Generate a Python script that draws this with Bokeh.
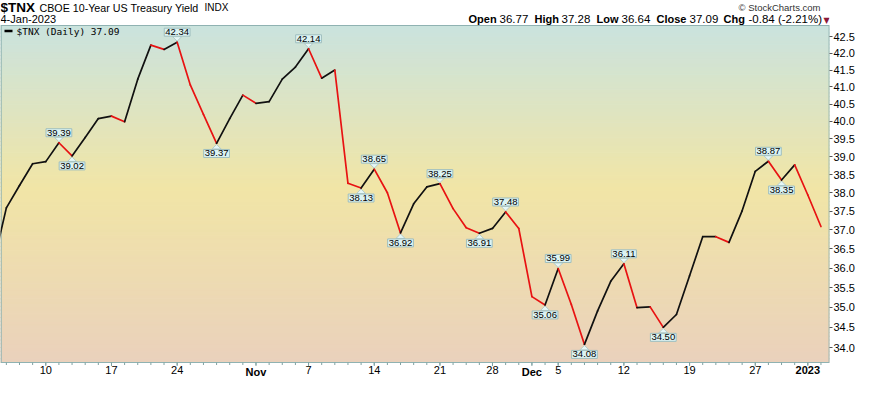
import math
import numpy as np
from bokeh.plotting import figure
from bokeh.models import (Range1d, FixedTicker, PrintfTickFormatter, Label, LabelSet,
                          ColumnDataSource, BoxAnnotation)
from bokeh.core.properties import value
from bokeh.embed import file_html
from bokeh.resources import INLINE

# ---------------- data ----------------
dates = [
    "2022-10-04", "2022-10-05", "2022-10-06", "2022-10-07", "2022-10-10", "2022-10-11",
    "2022-10-12", "2022-10-13", "2022-10-14", "2022-10-17", "2022-10-18", "2022-10-19",
    "2022-10-20", "2022-10-21", "2022-10-24", "2022-10-25", "2022-10-26", "2022-10-27",
    "2022-10-28", "2022-10-31", "2022-11-01", "2022-11-02", "2022-11-03", "2022-11-04",
    "2022-11-07", "2022-11-08", "2022-11-09", "2022-11-10", "2022-11-11", "2022-11-14",
    "2022-11-15", "2022-11-16", "2022-11-17", "2022-11-18", "2022-11-21", "2022-11-22",
    "2022-11-23", "2022-11-25", "2022-11-28", "2022-11-29", "2022-11-30", "2022-12-01",
    "2022-12-02", "2022-12-05", "2022-12-06", "2022-12-07", "2022-12-08", "2022-12-09",
    "2022-12-12", "2022-12-13", "2022-12-14", "2022-12-15", "2022-12-16", "2022-12-19",
    "2022-12-20", "2022-12-21", "2022-12-22", "2022-12-23", "2022-12-27", "2022-12-28",
    "2022-12-29", "2022-12-30", "2023-01-03", "2023-01-04",
]
closes = [
    36.10, 37.59, 38.20, 38.80, 38.86, 39.39,
    39.02, 39.54, 40.08, 40.15, 39.99, 41.23,
    42.25, 42.12, 42.34, 41.06, 40.20, 39.37,
    40.08, 40.76, 40.52, 40.57, 41.23, 41.59,
    42.14, 41.26, 41.50, 38.26, 38.13, 38.65,
    38.00, 36.92, 37.70, 38.16, 38.25, 37.57,
    37.06, 36.91, 37.04, 37.48, 37.04, 35.27,
    35.06, 35.99, 35.07, 34.08, 34.91, 35.66,
    36.11, 34.99, 35.01, 34.50, 34.82, 35.80,
    36.82, 36.82, 36.67, 37.51, 38.59, 38.87,
    38.35, 38.77, 37.94, 37.09,
]
peak_dates = ["2022-10-11", "2022-10-24", "2022-11-07", "2022-11-14", "2022-11-21",
              "2022-11-29", "2022-12-05", "2022-12-12", "2022-12-28"]
trough_dates = ["2022-10-12", "2022-10-27", "2022-11-11", "2022-11-16", "2022-11-25",
                "2022-12-02", "2022-12-07", "2022-12-15", "2022-12-29"]

tick_dates = ["2022-10-10", "2022-10-17", "2022-10-24", "2022-11-01", "2022-11-07",
              "2022-11-14", "2022-11-21", "2022-11-28", "2022-12-01", "2022-12-05",
              "2022-12-12", "2022-12-19", "2022-12-27", "2023-01-03"]
tick_labels = ["10", "17", "24", "Nov", "7", "14", "21", "28", "Dec", "5", "12", "19", "27", "2023"]
tick_bold = [False, False, False, True, False, False, False, False, True, False, False, False, False, True]
y_ticks = [34.0, 34.5, 35.0, 35.5, 36.0, 36.5, 37.0, 37.5, 38.0, 38.5, 39.0, 39.5,
           40.0, 40.5, 41.0, 41.5, 42.0, 42.5]

symbol = "$TNX"
name = "CBOE 10-Year US Treasury Yield"
exchange = "INDX"
as_of = "4-Jan-2023"
ohlc_open, ohlc_high, ohlc_low, ohlc_close = 36.77, 37.28, 36.64, 37.09
chg, chg_pct = -0.84, -2.21

# ---------------- layout constants ----------------
W, H = 857, 378
BOX_TOP, BOX_BOTTOM = 25, 362          # chart box inside the canvas (px from top)
RIGHT_AXIS = 28
FRAME_W = W - RIGHT_AXIS
BOX_H = BOX_BOTTOM - BOX_TOP
X0, X1 = 0.554, 63.65                  # x extent of the chart box (trading-day index)
Y0, Y1 = 33.64, 42.85                  # y extent of the chart box (log)
PX_PER_LN = BOX_H / math.log(Y1 / Y0)
PX_PER_X = FRAME_W / (X1 - X0)
YR_LO = Y0 * math.exp(-(H - BOX_BOTTOM) / PX_PER_LN)
YR_HI = Y1 * math.exp(BOX_TOP / PX_PER_LN)

FRAME_COL = "#8fb2b2"
RED = "#e81212"
BLACK = "#111111"

idx = {d: i for i, d in enumerate(dates)}
xs = list(range(len(dates)))

p = figure(width=W, height=H, y_axis_type="log", y_axis_location="right",
           x_range=Range1d(X0, X1), y_range=Range1d(YR_LO, YR_HI),
           output_backend="svg", toolbar_location=None,
           min_border_left=0, min_border_top=0, min_border_bottom=0,
           min_border_right=RIGHT_AXIS)
p.grid.visible = False
p.xaxis.visible = False
p.outline_line_color = None
p.background_fill_color = "white"
p.border_fill_color = "white"

# ---------------- gradient background ----------------
def hex2rgb(h):
    h = h.lstrip("#")
    return np.array([int(h[i:i + 2], 16) for i in (0, 2, 4)], dtype=float)

stops = [(0.0, hex2rgb("#cae3de")), (0.48, hex2rgb("#f1e5a6")), (1.0, hex2rgb("#ead1bc"))]

def grad(t):
    for (t0, c0), (t1, c1) in zip(stops[:-1], stops[1:]):
        if t <= t1:
            f = (t - t0) / (t1 - t0)
            c = c0 + (c1 - c0) * f
            return "#%02x%02x%02x" % tuple(int(round(v)) for v in c)
    c = stops[-1][1]
    return "#%02x%02x%02x" % tuple(int(round(v)) for v in c)

NB = 90
edges = np.geomspace(Y0, Y1, NB + 1)
band_cols = [grad(1 - (k + 0.5) / NB) for k in range(NB)]
p.quad(left=[X0 - 1] * NB, right=[X1 + 1] * NB, bottom=list(edges[:-1]), top=list(edges[1:]),
       fill_color=band_cols, line_color=band_cols, line_width=1)

# chart box border
bx = 0.6 / PX_PER_X
p.quad(left=[X0 + bx], right=[X1 - bx / 2], bottom=[Y0], top=[Y1], fill_color=None,
       line_color=FRAME_COL, line_width=1.2)

# x ticks (below the box)
tick_idx = [idx[d] for d in tick_dates]
minor = [i for i in xs if X0 <= i <= X1]
p.segment(x0=minor, x1=minor, y0=[Y0] * len(minor),
          y1=[Y0 * math.exp(-2.5 / PX_PER_LN)] * len(minor), line_color="#7fa2a2", line_width=1)
p.segment(x0=tick_idx, x1=tick_idx, y0=[Y0] * len(tick_idx),
          y1=[Y0 * math.exp(-3.5 / PX_PER_LN)] * len(tick_idx), line_color="#7fa2a2", line_width=1)

# ---------------- price line (red when falling) ----------------
seg = dict(x0=xs[:-1], x1=xs[1:], y0=closes[:-1], y1=closes[1:],
           c=[RED if b < a else BLACK for a, b in zip(closes[:-1], closes[1:])])
p.segment(x0="x0", y0="y0", x1="x1", y1="y1", color="c", line_width=1.7,
          line_cap="round", source=ColumnDataSource(seg))

# ---------------- annotation boxes ----------------
BOX_FILL = "#dcf3f3"
BOX_LINE = "#9fbebe"
half = 4.5 / PX_PER_X

def ptr(points, sign):
    pxs, pys = [], []
    for d in points:
        i = idx[d]
        v = closes[i]
        tip = v * math.exp(sign * 1.0 / PX_PER_LN)
        base = v * math.exp(sign * 5.5 / PX_PER_LN)
        pxs.append([i - half, i + half, i])
        pys.append([base, base, tip])
    return pxs, pys

for pts, sign in ((peak_dates, 1), (trough_dates, -1)):
    pxs, pys = ptr(pts, sign)
    p.patches(pxs, pys, fill_color="#e6f7f6", line_color="#b3cccc", line_width=1)

for pts, base, off in ((peak_dates, "bottom", -6), (trough_dates, "top", 6)):
    src = ColumnDataSource(dict(x=[idx[d] for d in pts], y=[closes[idx[d]] for d in pts],
                                t=["%.2f" % closes[idx[d]] for d in pts]))
    p.text(x="x", y="y", text="t", source=src, text_align="center", text_baseline=base,
           y_offset=off, text_font=value("Liberation Sans"), text_font_size="9.5px",
           text_color="#000000", background_fill_color=BOX_FILL,
           border_line_color=BOX_LINE, border_line_width=1, padding=1)

# ---------------- y axis ----------------
yax = p.yaxis[0]
yax.ticker = FixedTicker(ticks=y_ticks, minor_ticks=[])
yax.formatter = PrintfTickFormatter(format="%.1f")
yax.axis_line_color = None
yax.major_tick_in = 0
yax.major_tick_out = 3
yax.major_tick_line_color = "#555555"
yax.minor_tick_line_color = None
yax.major_label_standoff = 1
yax.major_label_text_font = "Liberation Sans"
yax.major_label_text_font_size = "11px"
yax.major_label_text_color = "#000000"

# ---------------- x tick labels ----------------
XL_Y = H - (BOX_BOTTOM + 3)
for bold in (False, True):
    sel = [k for k, b in enumerate(tick_bold) if b == bold]
    src = ColumnDataSource(dict(x=[idx[tick_dates[k]] for k in sel], t=[tick_labels[k] for k in sel]))
    p.add_layout(LabelSet(x="x", y=XL_Y, y_units="screen", text="t", source=src,
                          text_align="center", text_baseline="top",
                          text_font=value("Liberation Sans"), text_font_size="11px",
                          text_font_style="bold" if bold else "normal", text_color="#000000"))

# ---------------- legend ----------------
LEG_Y = H - 30.8
p.add_layout(BoxAnnotation(left=4, right=12, bottom=LEG_Y - 1, top=LEG_Y + 1.5, left_units="screen",
                           right_units="screen", bottom_units="screen", top_units="screen",
                           fill_color="#000000", fill_alpha=1, line_color=None))
p.add_layout(Label(x=16, y=LEG_Y, x_units="screen", y_units="screen",
                   text="%s (Daily) %.2f" % (symbol, closes[-1]), text_baseline="middle",
                   text_font="DejaVu Sans Mono", text_font_size="9.5px", text_color="#000000"))

# ---------------- header ----------------
L1 = H - 7
L2 = H - 18.5

def lab(x, y, t, size, bold=False, align="left", color="#000000", font="Liberation Sans"):
    p.add_layout(Label(x=x, y=y, x_units="screen", y_units="screen", text=t,
                       text_align=align, text_baseline="middle", text_font=font,
                       text_font_size=size, text_font_style="bold" if bold else "normal",
                       text_color=color))

lab(0, L1, symbol, "13.5px", bold=True)
lab(39, L1, name, "10.7px")
lab(204, L1, exchange, "10px")
lab(0, L2, as_of, "11px")
lab(820, L1, "\u00a9 StockCharts.com", "9.5px", align="right", color="#333333")

pieces = [(468, "Open", True), (499, "%.2f" % ohlc_open, False),
          (534, "High", True), (561, "%.2f" % ohlc_high, False),
          (596, "Low", True), (621, "%.2f" % ohlc_low, False),
          (656, "Close", True), (689, "%.2f" % ohlc_close, False),
          (723, "Chg", True), (748, "%.2f (%.2f%%)" % (chg, chg_pct), False)]
for x, t, b in pieces:
    lab(x, L2, t, "11px" if b else "11.5px", bold=b)
lab(823, L2 - 1, "\u25bc", "8px", color="#8c1838", font="DejaVu Sans")

open("out.html", "w").write(file_html(p, INLINE))
